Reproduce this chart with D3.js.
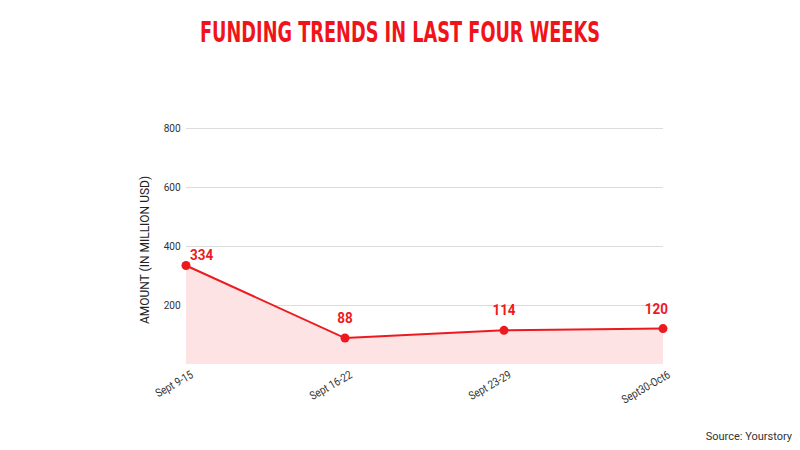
<!DOCTYPE html>
<html>
<head>
<meta charset="utf-8">
<script src="https://cdn.jsdelivr.net/npm/d3@7"></script>
<style>
  body { margin: 0; background: #fff; }
  text { font-family: Roboto, "Liberation Sans", sans-serif; }
</style>
</head>
<body>
<div id="chart"></div>
<script>
// Data
const weeks = ['Sept 9-15', 'Sept 16-22', 'Sept 23-29', 'Sept30-Oct6'];
const amounts = [334, 88, 114, 120];
const yTicks = [200, 400, 600, 800];

// Dimensions
const width = 800;
const height = 450;
const margin = {top: 128, left: 186, right: 137, bottom: 86};

const svg = d3.select('#chart')
  .append('svg')
    .attr('width', width)
    .attr('height', height)

// Scales
const scaleX = d3.scalePoint()
  .domain(weeks)
  .range([margin.left, width - margin.right])
const scaleY = d3.scaleLinear()
  .domain([0, 800])
  .range([height - margin.bottom, margin.top])

// Title
svg.append('text')
  .attr('x', 400)
  .attr('y', 42)
  .attr('text-anchor', 'middle')
  .attr('textLength', 400)
  .attr('lengthAdjust', 'spacingAndGlyphs')
  .style('font-family', '"DejaVu Sans Condensed", sans-serif')
  .style('font-weight', 'bold')
  .style('font-size', '29px')
  .attr('fill', '#f0141a')
  .text('FUNDING TRENDS IN LAST FOUR WEEKS')

// Grid + y axis
const axisY = d3.axisLeft(scaleY)
  .tickValues(yTicks)
  .tickSize(-(scaleX.range()[1] - scaleX.range()[0]))
  .tickPadding(6)
const gY = svg.append('g')
  .attr('transform', `translate(${margin.left}, 0)`)
  .call(axisY)
gY.select('.domain').remove();
gY.selectAll('line').attr('stroke', '#dcdcdc')
gY.selectAll('text')
  .attr('fill', '#333')
  .attr('transform', 'scale(0.88, 1)')
  .style('font-size', '11.5px')
  .style('font-family', 'Roboto, sans-serif')

// Y label
svg.append('text')
  .attr('transform', `translate(149, ${scaleY(400) + 4}) rotate(-90)`)
  .attr('text-anchor', 'middle')
  .attr('fill', '#222')
  .style('font-size', '12px')
  .text('AMOUNT (IN MILLION USD)')

// Area + line
const points = weeks.map((w, i) => ({week: w, value: amounts[i]}));
const area = d3.area()
  .x((d) => scaleX(d.week))
  .y0(scaleY(0))
  .y1((d) => scaleY(d.value))
const line = d3.line()
  .x((d) => scaleX(d.week))
  .y((d) => scaleY(d.value))
svg.append('path')
  .datum(points)
  .attr('d', area)
  .attr('fill', '#fde3e3')
svg.append('path')
  .datum(points)
  .attr('d', line)
  .attr('fill', 'none')
  .attr('stroke', '#ec1a1f')
  .attr('stroke-width', 2)
svg.append('g')
  .selectAll('circle')
  .data(points)
  .join('circle')
    .attr('cx', (d) => scaleX(d.week))
    .attr('cy', (d) => scaleY(d.value))
    .attr('r', 4.5)
    .attr('fill', '#ec1a1f')

// Value labels
const last = weeks.length - 1;
svg.append('g')
  .selectAll('text')
  .data(points)
  .join('text')
    .attr('transform', (d, i) => {
      const x = scaleX(d.week) + (i === 0 ? 4 : (i === last ? 5 : 0));
      const y = i === 0 ? scaleY(d.value) - 5 : scaleY(d.value) - 15;
      return `translate(${x}, ${y}) scale(0.9, 1)`;
    })
    .attr('text-anchor', (d, i) => i === 0 ? 'start' : (i === last ? 'end' : 'middle'))
    .attr('fill', '#ec1a1f')
    .style('font-size', '15px')
    .style('font-weight', 'bold')
    .text((d) => d.value)

// X labels
svg.append('g')
  .selectAll('text')
  .data(weeks)
  .join('text')
    .attr('transform', (d) => `translate(${scaleX(d) + 8}, ${scaleY(0) + 13}) rotate(-30) scale(0.85, 1)`)
    .attr('text-anchor', 'end')
    .attr('fill', '#333')
    .style('font-size', '11.5px')
    .text((d) => d)

// Source
svg.append('text')
  .attr('x', 792)
  .attr('y', 440)
  .attr('text-anchor', 'end')
  .attr('fill', '#333')
  .style('font-size', '11px')
  .text('Source: Yourstory')
</script>
</body>
</html>
